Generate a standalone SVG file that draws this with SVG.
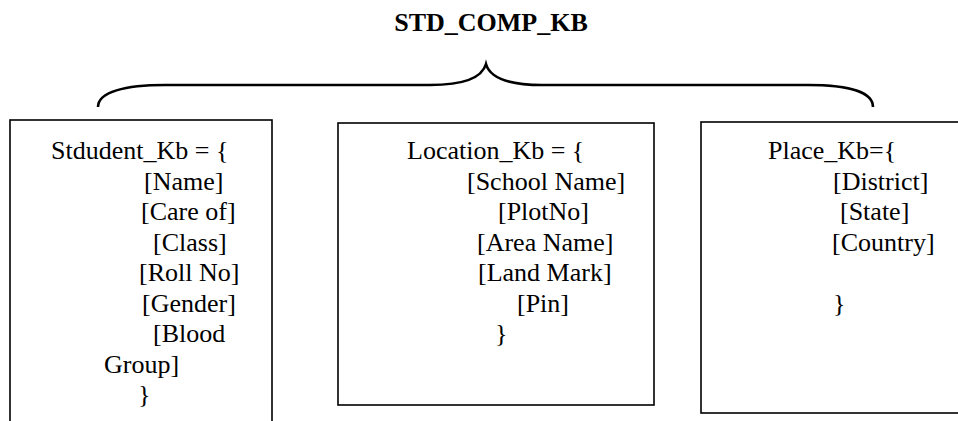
<svg xmlns="http://www.w3.org/2000/svg" width="958" height="421" viewBox="0 0 958 421">
<style>
.t{font-family:"Liberation Serif","Times New Roman",serif;font-size:26px;fill:#000}
.title{font-family:"Liberation Serif","Times New Roman",serif;font-size:26px;font-weight:bold;fill:#000}
.box{fill:#fff;stroke:#000;stroke-width:1.6}
.brace{fill:none;stroke:#000;stroke-width:2.6}
</style>
<rect width="958" height="421" fill="#fff"/>
<g id="title"><text class="title" x="491" y="31" text-anchor="middle">STD_COMP_KB</text></g>
<g id="connectors">
<path class="brace" d="M98,107 C98,92 125,85 165,85 L430,85 C465,85 482,78 486,64 C490,78 507,85 542,85 L808,85 C848,85 873,92 873,107"/>
</g>
<g id="student">
<rect class="box" x="10" y="120" width="262" height="310"/>
<text class="t" x="51" y="159">Stdudent_Kb = {</text>
<text class="t" x="144" y="189.5">[Name]</text>
<text class="t" x="141" y="220">[Care of]</text>
<text class="t" x="153" y="250.5">[Class]</text>
<text class="t" x="139" y="281">[Roll No]</text>
<text class="t" x="142" y="311.5">[Gender]</text>
<text class="t" x="153" y="342">[Blood</text>
<text class="t" x="104" y="372.5">Group]</text>
<text class="t" x="138" y="403">}</text>
</g>
<g id="location">
<rect class="box" x="338" y="123" width="316" height="282"/>
<text class="t" x="407" y="159">Location_Kb = {</text>
<text class="t" x="467" y="189.5">[School Name]</text>
<text class="t" x="498" y="220">[PlotNo]</text>
<text class="t" x="477" y="250.5">[Area Name]</text>
<text class="t" x="478" y="281">[Land Mark]</text>
<text class="t" x="517" y="311.5">[Pin]</text>
<text class="t" x="495" y="342">}</text>
</g>
<g id="place">
<rect class="box" x="701" y="122" width="270" height="291"/>
<text class="t" x="768" y="159">Place_Kb={</text>
<text class="t" x="833" y="189.5">[District]</text>
<text class="t" x="840" y="220">[State]</text>
<text class="t" x="832" y="250.5">[Country]</text>
<text class="t" x="833" y="311.5">}</text>
</g>
</svg>
